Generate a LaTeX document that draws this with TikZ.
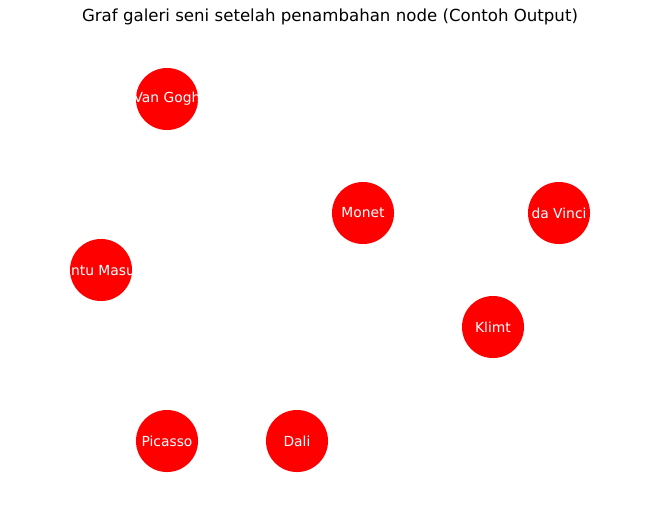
\documentclass[tikz,border=0pt]{standalone}
\usepackage{fontspec}
\setmainfont{DejaVu Sans}

\begin{document}
\begin{tikzpicture}[x=0.01in,y=-0.01in,
  room/.style={circle,fill=red,minimum size=0.62in,inner sep=0pt},
  roomtext/.style={text=white,inner sep=0pt,font=\fontsize{10}{12}\selectfont}]
\useasboundingbox (0,0) rectangle (660,520);

 \node[font=\fontsize{12}{14}\selectfont] (title) at (330,17) {Graf galeri seni setelah penambahan node (Contoh Output)};

 \node[room] (vangogh) at (167,99) {};
 \node[room] (monet) at (363,213) {};
 \node[room] (davinci) at (559,213) {};
 \node[room] (pintu) at (101,270) {};
 \node[room] (klimt) at (493,327) {};
 \node[room] (picasso) at (167,441) {};
 \node[room] (dali) at (297,441) {};

 \node[roomtext] at (vangogh) {Van Gogh};
 \node[roomtext] at (monet) {Monet};
 \node[roomtext] at (davinci) {da Vinci};
 \node[roomtext] at (pintu) {Pintu Masuk};
 \node[roomtext] at (klimt) {Klimt};
 \node[roomtext] at (picasso) {Picasso};
 \node[roomtext] at (dali) {Dali};

\end{tikzpicture}
\end{document}
